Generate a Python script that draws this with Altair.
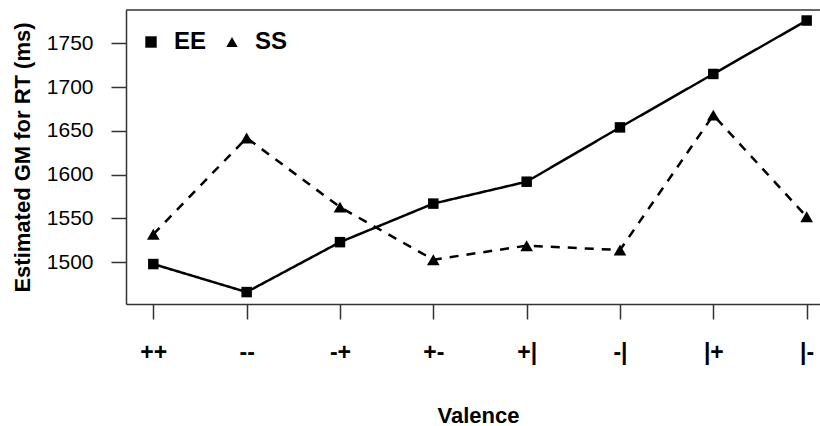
import json
import altair as alt
import pandas as pd

categories = ["++", "--", "-+", "+-", "+|", "-|", "|+", "|-"]
ee_values = [1498, 1466, 1523, 1567, 1592, 1654, 1715, 1776]
ss_values = [1532, 1642, 1563, 1503, 1519, 1514, 1668, 1552]
series_names = ["EE", "SS"]
y_ticks = [1500, 1550, 1600, 1650, 1700, 1750]

rows = []
for i, c in enumerate(categories):
    rows.append({"pos": i + 1, "cat": c, "series": "EE", "value": ee_values[i]})
    rows.append({"pos": i + 1, "cat": c, "series": "SS", "value": ss_values[i]})
df = pd.DataFrame(rows)
df["linetype"] = df["series"]

label_expr = json.dumps(categories) + "[round(datum.value) - 1]"
FONT = "Liberation Sans"
BOX = "#333333"

x_enc = alt.X(
    "pos:Q",
    scale=alt.Scale(domain=[0.7075, 8.143], nice=False, zero=False),
    axis=alt.Axis(
        values=list(range(1, len(categories) + 1)),
        labelExpr=label_expr,
        title="Valence",
        titleX=352,
        titleY=118,
        titleBaseline="alphabetic",
        titleAlign="center",
        labelPadding=22,
        labelFontSize=23,
        labelFontWeight="bold",
    ),
)
y_enc = alt.Y(
    "value:Q",
    scale=alt.Scale(domain=[1452.4, 1788.0], nice=False, zero=False),
    axis=alt.Axis(
        values=y_ticks,
        format="d",
        title="Estimated GM for RT (ms)",
        titleX=-97,
        titleY=147,
        titleAngle=270,
        titleBaseline="alphabetic",
        titleAlign="center",
        labelPadding=18,
        labelFontWeight="normal",
    ),
)

top_border = alt.Chart(pd.DataFrame({"a": [0]})).mark_rule(
    color=BOX, strokeWidth=1.5
).encode(y=alt.value(0))

lines = alt.Chart(df).mark_line(color="black", strokeWidth=2.5).encode(
    x=x_enc,
    y=y_enc,
    detail="linetype:N",
    strokeDash=alt.StrokeDash(
        "linetype:N",
        scale=alt.Scale(domain=series_names, range=[[1, 0], [9, 8]]),
        legend=None,
    ),
)

points = alt.Chart(df).mark_point(filled=True, color="black", opacity=1).encode(
    x=x_enc,
    y=y_enc,
    shape=alt.Shape(
        "series:N",
        scale=alt.Scale(domain=series_names, range=["square", "triangle-up"]),
        legend=alt.Legend(
            title=None,
            orient="none",
            legendX=13,
            legendY=20,
            direction="horizontal",
            labelOffset=11,
            columnPadding=13,
            padding=0,
        ),
    ),
    size=alt.condition(
        alt.datum.series == "EE", alt.value(110), alt.value(160)
    ),
)

chart = (
    alt.layer(top_border, lines, points)
    .resolve_legend(shape="independent", strokeDash="independent")
    .properties(
        width=694,
        height=294,
        padding={"left": 126, "top": 10, "right": 0, "bottom": 122},
        autosize=alt.AutoSizeParams(type="none"),
        background="white",
    )
    .configure_view(stroke=None)
    .configure_axis(
        grid=False,
        domainColor=BOX,
        domainWidth=1.5,
        tickColor=BOX,
        tickWidth=1.5,
        tickSize=15,
        labelFont=FONT,
        labelFontSize=21,
        labelColor="black",
        titleFont=FONT,
        titleFontSize=22,
        titleFontWeight="bold",
        titleColor="black",
    )
    .configure_legend(
        labelFont=FONT,
        labelFontSize=24,
        labelFontWeight="bold",
        labelColor="black",
        symbolSize=130,
        symbolStrokeWidth=0,
        symbolFillColor="black",
    )
)

chart.save("out.html", embed_options={"renderer": "svg", "actions": False})
